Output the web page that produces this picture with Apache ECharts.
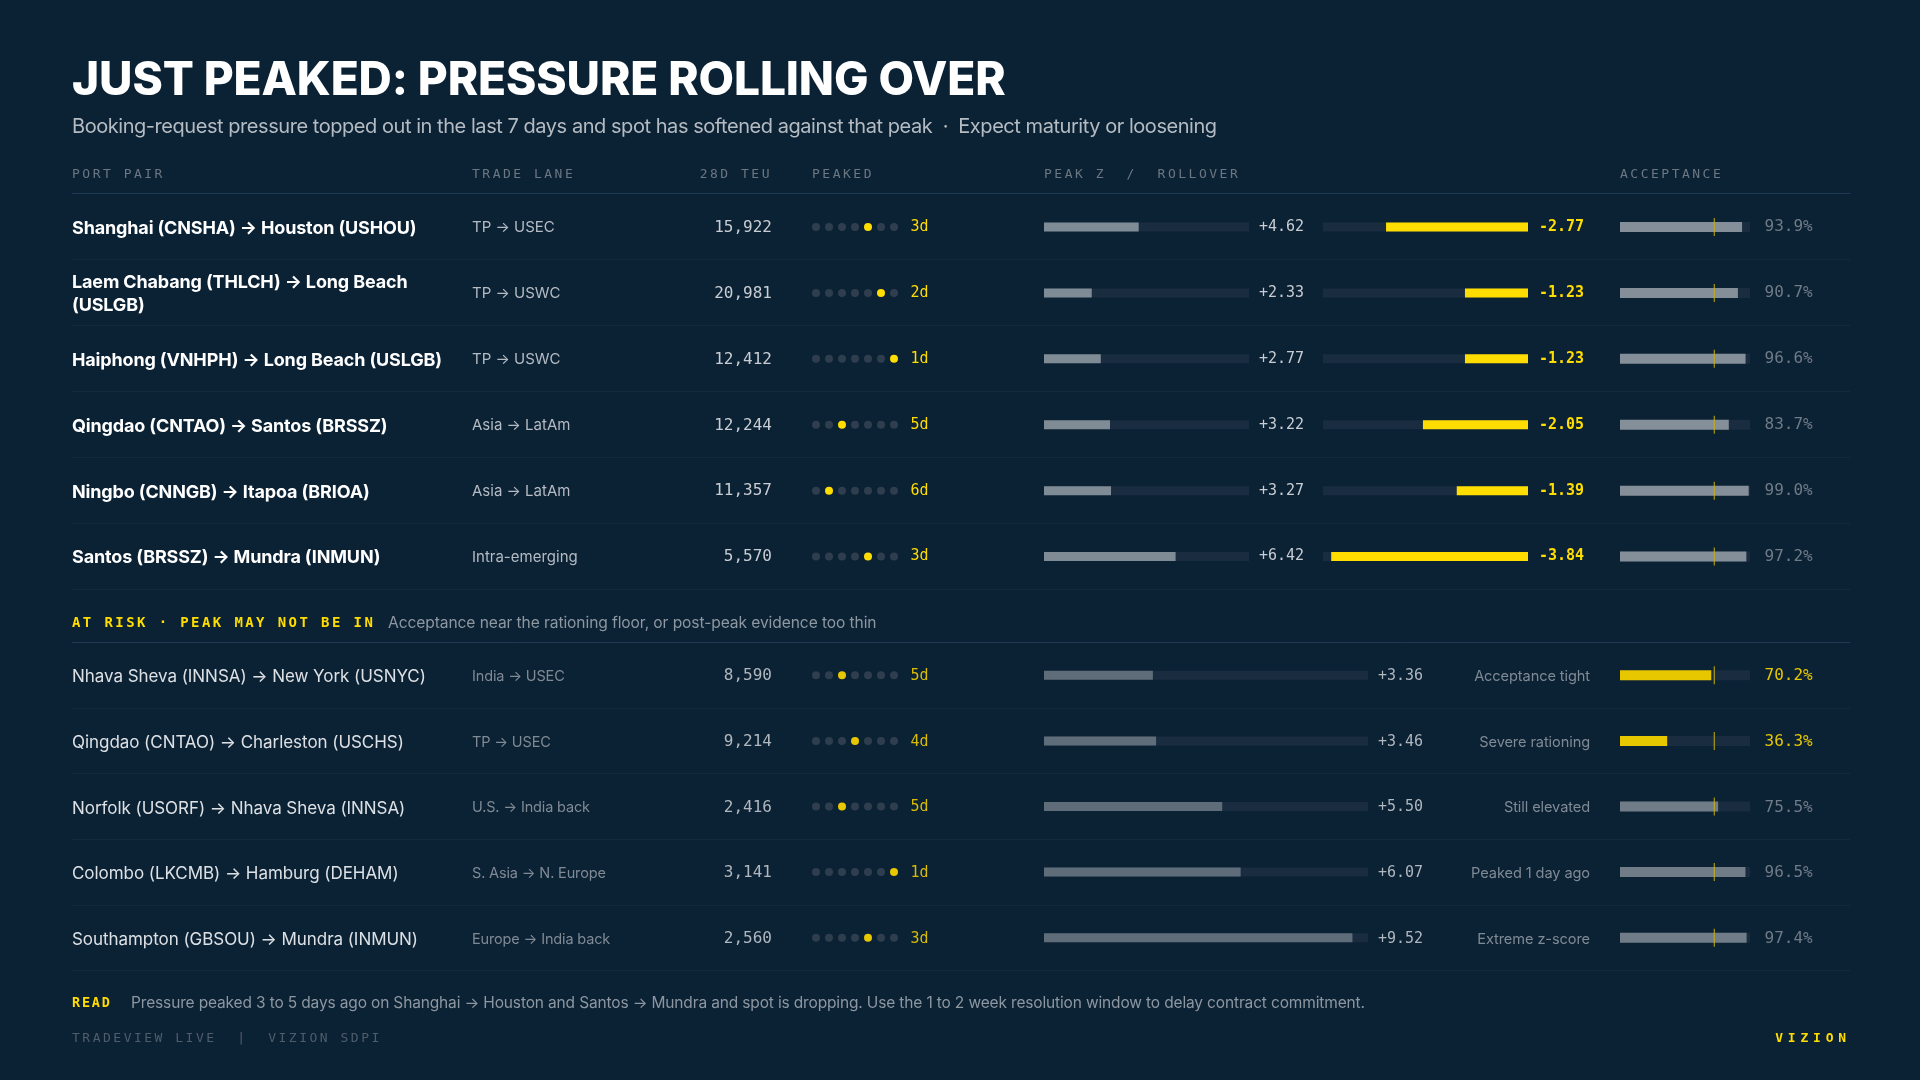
<!DOCTYPE html>
<html><head><meta charset="utf-8">
<style>html,body{margin:0;padding:0;background:#0b2134}#c{width:1920px;height:1080px}</style>
<script src="https://cdn.jsdelivr.net/npm/echarts@6/dist/echarts.min.js"></script>
</head><body><div id="c"></div>
<script>
// ---------- data ----------
const pairsA = ["Shanghai (CNSHA) → Houston (USHOU)","Laem Chabang (THLCH) → Long Beach (USLGB)","Haiphong (VNHPH) → Long Beach (USLGB)","Qingdao (CNTAO) → Santos (BRSSZ)","Ningbo (CNNGB) → Itapoa (BRIOA)","Santos (BRSSZ) → Mundra (INMUN)"];
const lanesA = ["TP → USEC","TP → USWC","TP → USWC","Asia → LatAm","Asia → LatAm","Intra-emerging"];
const teuA = [15922,20981,12412,12244,11357,5570];
const daysA = [3,2,1,5,6,3];
const peakZA = [4.62,2.33,2.77,3.22,3.27,6.42];
const rolloverA = [-2.77,-1.23,-1.23,-2.05,-1.39,-3.84];
const acceptA = [93.9,90.7,96.6,83.7,99.0,97.2];
const pairsB = ["Nhava Sheva (INNSA) → New York (USNYC)","Qingdao (CNTAO) → Charleston (USCHS)","Norfolk (USORF) → Nhava Sheva (INNSA)","Colombo (LKCMB) → Hamburg (DEHAM)","Southampton (GBSOU) → Mundra (INMUN)"];
const lanesB = ["India → USEC","TP → USEC","U.S. → India back","S. Asia → N. Europe","Europe → India back"];
const teuB = [8590,9214,2416,3141,2560];
const daysB = [5,4,5,1,3];
const peakZB = [3.36,3.46,5.50,6.07,9.52];
const reasonsB = ["Acceptance tight","Severe rationing","Still elevated","Peaked 1 day ago","Extreme z-score"];
const acceptB = [70.2,36.3,75.5,96.5,97.4];
const rationingFloor = 72.5;
const tightBelow = 70.5;
const dotSlots = [0,1,2,3,4,5,6];
const headers = ["PORT PAIR","TRADE LANE","28D TEU","PEAKED","PEAK Z  /  ROLLOVER","ACCEPTANCE"];

// ---------- letter spacing for tracked type ----------
const proto = CanvasRenderingContext2D.prototype;
const fd = Object.getOwnPropertyDescriptor(proto,'font');
const tracking = [
  [/bold 14px "?DejaVu Sans Mono/, '2.4px'],
  [/bold 13\.5px "?DejaVu Sans Mono/, '1.8px'],
  [/bold 13px "?DejaVu Sans Mono/, '4.8px'],
  [/\b13px "?DejaVu Sans Mono/, '2.5px'],
  [/800 46px/, '-0.1px'],
  [/20px "?Inter/, '-0.45px'],
  [/15\.6px "?Inter/, '-0.1px'],
  [/15\.5px "?Inter/, '-0.15px'],
  [/14\.6px "?Inter/, '-0.1px'],
  [/14\.5px "?Inter/, '-0.15px'],
  [/700 18px "?Inter/, '-0.15px'],
  [/17px "?Inter/, '-0.05px']
];
Object.defineProperty(proto,'font',{
  get(){return fd.get.call(this);},
  set(v){
    fd.set.call(this,v);
    let s='0px';
    for(const [re,sp] of tracking){ if(re.test(v)){s=sp;break;} }
    this.letterSpacing=s;
  }
});

// ---------- styles ----------
const SANS='Inter', MONO='"DejaVu Sans Mono"';
const BG='#0b2134', TRACK='#1a2c40', YEL='#ffdd00', YELB='#e6c700', DOT='#2f3e4f';
const LINE='#14293c', HLINE='#1e3a55';
const secA={top:193.5,height:395.5,dy:0.5}, secB={top:642.5,height:328,dy:0};

const grids=[],xAxes=[],yAxes=[],series=[];
function addGrid(sec,left,width,xOpt,shift){
  grids.push({left,top:sec.top+(shift===undefined?sec.dy:shift),width,height:sec.height,containLabel:false});
  xAxes.push(Object.assign({gridIndex:grids.length-1,type:'value',show:false},xOpt||{}));
  return grids.length-1;
}
function addY(g,n,opt,labelOpt){
  yAxes.push(Object.assign({gridIndex:g,type:'category',inverse:true,
    data:Array.from({length:n},(_,i)=>String(i)),
    axisLine:{show:false},axisTick:{show:false},splitLine:{show:false},
    axisLabel:Object.assign({interval:0,show:!!labelOpt},labelOpt||{})},opt||{}));
  return yAxes.length-1;
}
// a column of row labels, on its own grid so it can sit slightly off the row centre
function labels(sec,left,width,shift,n,opt,labelOpt){
  const g=addGrid(sec,left,width,null,shift);
  addY(g,n,opt,labelOpt);
}
function bars(xi,yi,w,trackVal,vals,color){
  series.push({type:'bar',xAxisIndex:xi,yAxisIndex:yi,barWidth:w,barGap:'-100%',silent:true,animation:false,
    data:vals.map(()=>trackVal),itemStyle:{color:TRACK}});
  series.push({type:'bar',xAxisIndex:xi,yAxisIndex:yi,barWidth:w,barGap:'-100%',silent:true,animation:false,
    data:vals.map((v,i)=>({value:v,itemStyle:{color:typeof color==='function'?color(v,i):color}}))});
}
function section(sec,d){
  const n=d.pairs.length;
  // row frame
  let g=addGrid(sec,72,1778,{show:true,position:'top',min:0,max:1,
     axisLine:{show:true,onZero:false,lineStyle:{color:HLINE,width:1}},axisTick:{show:false},axisLabel:{show:false},splitLine:{show:false}},0);
  addY(g,n,{splitLine:{show:true,interval:0,lineStyle:{color:LINE,width:1}}});
  // port pair
  labels(sec,72,400,2,n,{data:d.pairs},
    {inside:true,margin:0,width:385,overflow:'break',lineHeight:23,fontFamily:SANS,fontSize:d.pairSize,fontWeight:d.pairWeight,color:d.pairColor});
  // lane
  labels(sec,472,200,1.5,n,{data:d.lanes},{inside:true,margin:0,fontFamily:SANS,fontSize:d.laneSize,color:d.laneColor});
  // TEU
  labels(sec,772,10,d.monoA,n,{data:d.teu.map(v=>v.toLocaleString('en-US'))},{margin:0,fontFamily:MONO,fontSize:16,color:d.teuColor});
  // dots
  g=addGrid(sec,816,78,{min:0,max:6});
  const yDots=addY(g,n);
  const grey=[],hot=[];
  d.days.forEach((day,i)=>dotSlots.forEach(s=>{(s===7-day?hot:grey).push([s,i]);}));
  series.push({type:'scatter',xAxisIndex:g,yAxisIndex:yDots,symbolSize:8,silent:true,animation:false,data:grey,itemStyle:{color:DOT,opacity:1}});
  series.push({type:'scatter',xAxisIndex:g,yAxisIndex:yDots,symbolSize:8,silent:true,animation:false,data:hot,itemStyle:{color:d.hot,opacity:1}});
  labels(sec,816,78,d.monoB,n,{position:'right',data:d.days.map(v=>v+'d')},{margin:16.5,fontFamily:MONO,fontSize:15,color:d.dayColor});
  // peak z
  g=addGrid(sec,1044,d.zWidth,{min:0,max:10});
  let y=addY(g,n);
  bars(g,y,9,10,d.peakZ,d.zFill);
  labels(sec,1044,d.zWidth,d.monoB,n,{position:'right',data:d.peakZ.map(v=>'+'+v.toFixed(2))},{margin:10,fontFamily:MONO,fontSize:15,color:d.zLabel});
  // rollover
  if(d.rollover){
    g=addGrid(sec,1323,205,{min:-4,max:0});
    y=addY(g,n);
    bars(g,y,9,-4,d.rollover,YEL);
    labels(sec,1323,205,d.monoB,n,{position:'right',data:d.rollover.map(v=>v.toFixed(2))},{margin:11,fontFamily:MONO,fontSize:15,fontWeight:'bold',color:YEL});
  }
  // acceptance
  g=addGrid(sec,1620,130,{min:0,max:100});
  y=addY(g,n);
  bars(g,y,10,100,d.accept,v=>v<=tightBelow?YELB:d.accFill);
  series.push({type:'scatter',xAxisIndex:g,yAxisIndex:y,symbol:'rect',symbolSize:[1,18],silent:true,animation:false,z:5,
    data:d.accept.map((_,i)=>[rationingFloor,i]),itemStyle:{color:'#c9b10a',opacity:1}});
  labels(sec,1620,130,d.monoB,n,{position:'right',data:d.accept.map(v=>v.toFixed(1)+'%')},
    {margin:14.5,fontFamily:MONO,fontSize:16,color:(v,i)=>d.accept[i]<=tightBelow?YELB:d.accLabel});
  if(d.reasons) labels(sec,1620,130,1.5,n,{data:d.reasons},{margin:30,fontFamily:SANS,fontSize:14.6,color:'#7f8a95'});
}
section(secA,{pairs:pairsA,lanes:lanesA,teu:teuA,days:daysA,peakZ:peakZA,rollover:rolloverA,accept:acceptA,monoA:1.2,monoB:0.5,
  pairSize:18,pairWeight:700,pairColor:'#ffffff',laneSize:15,laneColor:'#b4bbc3',teuColor:'#c8cdd3',dayColor:YEL,hot:YEL,
  zWidth:205,zLabel:'#c8cdd3',zFill:'#7f8b95',accLabel:'#6f7b87',accFill:'#858f99'});
section(secB,{pairs:pairsB,lanes:lanesB,teu:teuB,days:daysB,peakZ:peakZB,accept:acceptB,reasons:reasonsB,monoA:1,monoB:1,
  pairSize:17,pairWeight:400,pairColor:'#dde1e5',laneSize:14.5,laneColor:'#7f8a95',teuColor:'#b0b7be',dayColor:'#d8bc05',hot:YELB,
  zWidth:324,zLabel:'#b0b7be',zFill:'#5e6d79',accLabel:'#6f7b87',accFill:'#707c88'});

// ---------- text ----------
function T(x,y,text,font,fill,align){
  return {type:'text',x,y,silent:true,style:{text,font,fill,textAlign:align||'left',textVerticalAlign:'middle'}};
}
const H=`13px ${MONO}`, HC='#6b7782';
const graphics=[
  T(72,81.5,"JUST PEAKED: PRESSURE ROLLING OVER",`800 46px ${SANS}`,'#ffffff'),
  T(72,126.5,"Booking-request pressure topped out in the last 7 days and spot has softened against that peak  ·  Expect maturity or loosening",`20px ${SANS}`,'#b4bbc2'),
  T(72,175,headers[0],H,HC),T(472,175,headers[1],H,HC),T(772,175,headers[2],H,HC,'right'),
  T(812,175,headers[3],H,HC),T(1044,175,headers[4],H,HC),T(1620,175,headers[5],H,HC),
  T(72,623.5,"AT RISK · PEAK MAY NOT BE IN",`bold 14px ${MONO}`,YEL),
  T(388,623.5,"Acceptance near the rationing floor, or post-peak evidence too thin",`15.6px ${SANS}`,'#8d97a1'),
  T(72,1003.5,"READ",`bold 13.5px ${MONO}`,YEL),
  T(131,1003.5,"Pressure peaked 3 to 5 days ago on Shanghai → Houston and Santos → Mundra and spot is dropping. Use the 1 to 2 week resolution window to delay contract commitment.",`15.5px ${SANS}`,'#8d97a1'),
  T(72,1039,"TRADEVIEW LIVE  |  VIZION SDPI",H,'#4f5d6b'),
  T(1851,1039,"VIZION",`bold 13px ${MONO}`,YEL,'right')
];

const chart=echarts.init(document.getElementById('c'),null,{renderer:'canvas',width:1920,height:1080});
chart.setOption({backgroundColor:BG,animation:false,grid:grids,xAxis:xAxes,yAxis:yAxes,series,graphic:graphics,tooltip:{show:false}});
</script></body></html>
